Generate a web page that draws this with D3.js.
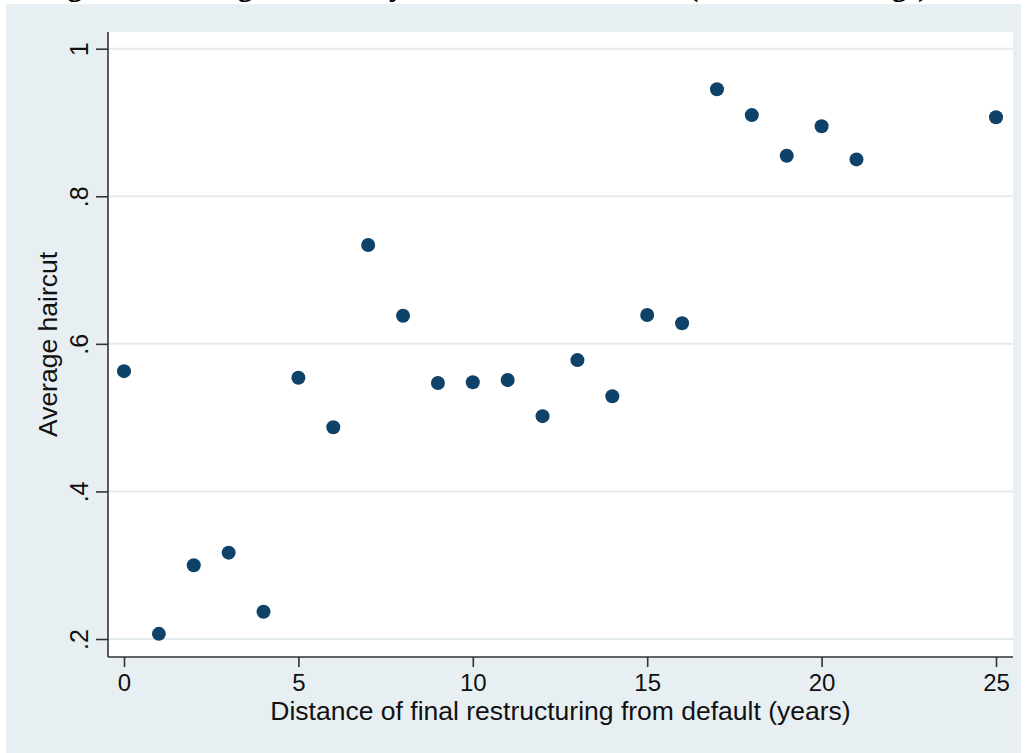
<!DOCTYPE html>
<html>
<head>
<meta charset="utf-8">
<script src="https://cdn.jsdelivr.net/npm/d3@7"></script>
<style>
  body { margin: 0; background: #fff; }
  svg { display: block; }
  .axis path, .axis line { stroke: #333; }
  .axis text { fill: #111; font-family: "Liberation Sans", Arial, sans-serif; }
</style>
</head>
<body>
<div id="chart"></div>
<script>
// values
var years = [0, 1, 2, 3, 4, 5, 6, 7, 8, 9, 10, 11, 12, 13, 14, 15, 16, 17, 18, 19, 20, 21, 25];
var haircut = [0.563, 0.207, 0.300, 0.317, 0.237, 0.554, 0.487, 0.734, 0.638, 0.547, 0.548, 0.551,
               0.502, 0.578, 0.529, 0.639, 0.628, 0.945, 0.910, 0.855, 0.895, 0.850, 0.907];
var xTicks = [0, 5, 10, 15, 20, 25];
var yTicks = [0.2, 0.4, 0.6, 0.8, 1];
var yTickLabels = [".2", ".4", ".6", ".8", "1"];

var W = 1027, H = 753;
var plot = {left: 108, right: 1013, top: 32, bottom: 657};

var svg = d3.select("#chart").append("svg")
    .attr("width", W)
    .attr("height", H);

// graph region
svg.append("rect")
    .attr("x", 6).attr("y", 4)
    .attr("width", 1015).attr("height", H - 4)
    .attr("fill", "#e8eff2");

// title is cut off at the top of the picture, only descenders show
svg.append("text")
    .attr("x", 41).attr("y", -4.5)
    .style("font-family", "'Liberation Serif', 'Times New Roman', serif")
    .style("font-weight", "bold")
    .style("font-size", "29.7px")
    .attr("fill", "#000")
    .text("Figure 6: Average haircut by distance from default (all restructurings)");

svg.append("rect")
    .attr("x", plot.left).attr("y", plot.top)
    .attr("width", plot.right - plot.left).attr("height", plot.bottom - plot.top)
    .attr("fill", "#fff");

var x = d3.scaleLinear().domain([0, 25]).range([124, 996]),
    y = d3.scaleLinear().domain([0.2, 1]).range([639, 48.7]);

// gridlines
svg.append("g").selectAll("line")
    .data(yTicks)
    .enter().append("line")
    .attr("x1", plot.left).attr("x2", plot.right)
    .attr("y1", function(d) { return y(d); })
    .attr("y2", function(d) { return y(d); })
    .attr("stroke", "#e3ebef")
    .attr("stroke-width", 2);

var xaxis = svg.append("g")
    .attr("class", "axis")
    .attr("transform", "translate(0," + plot.bottom + ")")
    .call(d3.axisBottom(x)
        .tickValues(xTicks)
        .tickFormat(d3.format("d"))
        .tickSize(10)
        .tickSizeOuter(0)
        .tickPadding(7));
xaxis.select(".domain")
    .attr("d", "M" + plot.left + ",0H" + plot.right)
    .attr("stroke-width", 1.6);
xaxis.selectAll(".tick line").attr("stroke-width", 1.6);
xaxis.selectAll(".tick text")
    .style("font-size", "24px")
    .attr("dy", "0.71em");

var yaxis = svg.append("g")
    .attr("class", "axis")
    .attr("transform", "translate(" + plot.left + ",0)")
    .call(d3.axisLeft(y)
        .tickValues(yTicks)
        .tickFormat(function(d, i) { return yTickLabels[i]; })
        .tickSize(12)
        .tickSizeOuter(0));
yaxis.select(".domain")
    .attr("d", "M0," + plot.top + "V" + plot.bottom)
    .attr("stroke-width", 1.6);
yaxis.selectAll(".tick line").attr("stroke-width", 1.6);
yaxis.selectAll(".tick text")
    .style("font-size", "25px")
    .attr("x", null).attr("dy", null)
    .attr("text-anchor", "middle")
    .attr("transform", "translate(-20,0) rotate(-90)");

// axis titles
svg.append("text")
    .attr("x", (plot.left + plot.right) / 2)
    .attr("y", 720)
    .attr("text-anchor", "middle")
    .style("font-family", "'Liberation Sans', Arial, sans-serif")
    .style("font-size", "26.5px")
    .attr("fill", "#111")
    .text("Distance of final restructuring from default (years)");

svg.append("text")
    .attr("transform", "translate(57," + ((plot.top + plot.bottom) / 2) + ") rotate(-90)")
    .attr("text-anchor", "middle")
    .style("font-family", "'Liberation Sans', Arial, sans-serif")
    .style("font-size", "26.5px")
    .attr("fill", "#111")
    .text("Average haircut");

// points
svg.append("g").selectAll("circle")
    .data(years)
    .enter().append("circle")
    .attr("cx", function(d) { return x(d); })
    .attr("cy", function(d, i) { return y(haircut[i]); })
    .attr("r", 7)
    .attr("fill", "#0f4268");
</script>
</body>
</html>
